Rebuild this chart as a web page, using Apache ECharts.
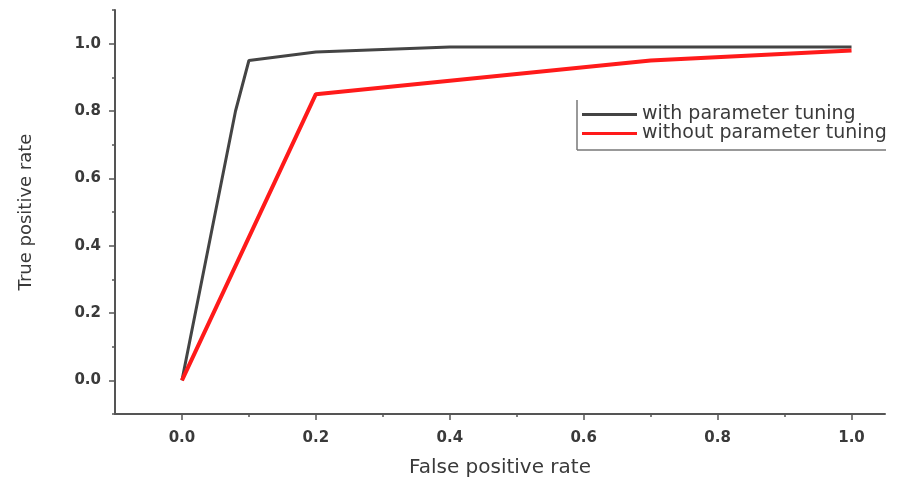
<!DOCTYPE html>
<html>
<head>
<meta charset="utf-8">
<script src="https://cdn.jsdelivr.net/npm/echarts@6/dist/echarts.min.js"></script>
<style>html,body{margin:0;padding:0;background:#fff}#c{width:908px;height:481px}</style>
</head>
<body>
<div id="c"></div>
<script>
var withFpr = [0, 0.08, 0.1, 0.2, 0.4, 0.6, 0.8, 1.0];
var withTpr = [0, 0.8, 0.95, 0.975, 0.99, 0.99, 0.99, 0.99];
var withoutFpr = [0, 0.2, 0.7, 1.0];
var withoutTpr = [0, 0.85, 0.95, 0.98];
var seriesNames = ['with parameter tuning', 'without parameter tuning'];
var xMajor = [0, 0.2, 0.4, 0.6, 0.8, 1.0];
var xMinor = [0.1, 0.3, 0.5, 0.7, 0.9];
var yMajor = [0, 0.2, 0.4, 0.6, 0.8, 1.0];
var yMinor = [-0.1, 0.1, 0.3, 0.5, 0.7, 0.9, 1.1];

function pairs(xs, ys) { return xs.map(function (x, i) { return [x, ys[i]]; }); }

var font = 'DejaVu Sans';
var axisColor = '#555';
var labelStyle = { fontFamily: font, fontSize: 15, fontWeight: 'bold', color: '#3a3a3a',
  formatter: function (v) { return v.toFixed(1); } };

var chart = echarts.init(document.getElementById('c'));
chart.setOption({
  animation: false,
  grid: { left: 115, right: 23, top: 10, bottom: 67, outerBoundsMode: 'none', containLabel: false },
  legend: {
    orient: 'vertical', left: 577, top: 100, itemWidth: 55, itemHeight: 3, itemGap: 0,
    textStyle: { fontFamily: font, fontSize: 19, color: '#3a3a3a' },
    data: [
      { name: seriesNames[0], icon: 'rect', itemStyle: { color: '#444' } },
      { name: seriesNames[1], icon: 'rect', itemStyle: { color: '#ff1a1a' } }
    ]
  },
  graphic: [
    { type: 'line', shape: { x1: 577, y1: 100, x2: 577, y2: 150 }, style: { stroke: '#777', lineWidth: 1.5 } },
    { type: 'line', shape: { x1: 577, y1: 150, x2: 886, y2: 150 }, style: { stroke: '#777', lineWidth: 1.5 } }
  ],
  xAxis: [
    { type: 'value', min: -0.1, max: 1.05, position: 'bottom',
      name: 'False positive rate', nameLocation: 'middle', nameGap: 44,
      nameTextStyle: { fontFamily: font, fontSize: 20, color: '#3a3a3a' },
      axisLine: { onZero: false, lineStyle: { color: axisColor, width: 2 } },
      axisTick: { customValues: xMajor, length: 6, lineStyle: { color: axisColor, width: 1.5 } },
      axisLabel: Object.assign({ customValues: xMajor, margin: 17 }, labelStyle),
      splitLine: { show: false } },
    { type: 'value', min: -0.1, max: 1.05, position: 'bottom',
      axisLine: { show: false, onZero: false },
      axisTick: { customValues: xMinor, length: 3, lineStyle: { color: axisColor, width: 1.5 } },
      axisLabel: { show: false }, splitLine: { show: false } }
  ],
  yAxis: [
    { type: 'value', min: -0.1, max: 1.1, position: 'left',
      name: 'True positive rate', nameLocation: 'middle', nameGap: 80,
      nameTextStyle: { fontFamily: font, fontSize: 18, color: '#3a3a3a' },
      axisLine: { show: true, onZero: false, lineStyle: { color: axisColor, width: 2 } },
      axisTick: { show: true, customValues: yMajor, length: 6, lineStyle: { color: axisColor, width: 1.5 } },
      axisLabel: Object.assign({ customValues: yMajor, margin: 14 }, labelStyle),
      splitLine: { show: false } },
    { type: 'value', min: -0.1, max: 1.1, position: 'left',
      axisLine: { show: false, onZero: false },
      axisTick: { show: true, customValues: yMinor, length: 3, lineStyle: { color: axisColor, width: 1.5 } },
      axisLabel: { show: false }, splitLine: { show: false } }
  ],
  series: [
    { name: seriesNames[0], type: 'line', data: pairs(withFpr, withTpr), showSymbol: false,
      lineStyle: { color: '#444', width: 3 }, itemStyle: { color: '#444' }, z: 2 },
    { name: seriesNames[1], type: 'line', data: pairs(withoutFpr, withoutTpr), showSymbol: false,
      lineStyle: { color: '#ff1a1a', width: 4 }, itemStyle: { color: '#ff1a1a' }, z: 3 }
  ]
});
</script>
</body>
</html>
